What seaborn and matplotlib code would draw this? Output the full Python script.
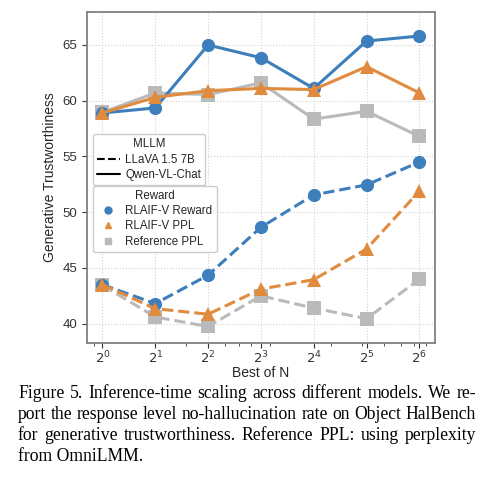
import numpy as np
import pandas as pd
import seaborn as sns
from matplotlib import pyplot as plt
from matplotlib.lines import Line2D
from matplotlib.ticker import NullFormatter

# Best-of-N sample counts (x axis, powers of two)
best_of_n = [1, 2, 4, 8, 16, 32, 64]
exponents = [0, 1, 2, 3, 4, 5, 6]

# Qwen-VL-Chat (solid lines)
qwen_reward = [58.9, 59.35, 65.0, 63.85, 61.1, 65.35, 65.8]
qwen_ppl = [58.9, 60.3, 60.9, 61.1, 61.0, 63.05, 60.7]
qwen_ref = [58.95, 60.7, 60.55, 61.6, 58.35, 59.05, 56.8]

# LLaVA 1.5 7B (dashed lines)
llava_reward = [43.5, 41.8, 44.35, 48.65, 51.55, 52.45, 54.5]
llava_ppl = [43.5, 41.35, 40.85, 43.1, 43.95, 46.7, 51.9]
llava_ref = [43.45, 40.6, 39.75, 42.5, 41.4, 40.45, 44.0]

rewards = ['RLAIF-V Reward', 'RLAIF-V PPL', 'Reference PPL']
mllms = ['LLaVA 1.5 7B', 'Qwen-VL-Chat']
y_ticks = [40, 45, 50, 55, 60, 65]

caption_lines = [
    "Figure 5.  Inference-time scaling across different models.  We re-",
    "port the response level no-hallucination rate on Object HalBench",
    "for generative trustworthiness.  Reference PPL: using perplexity",
    "from OmniLMM.",
]

colors = {'RLAIF-V Reward': '#3d7ebc', 'RLAIF-V PPL': '#e08b3e', 'Reference PPL': '#bababa'}
markers = {'RLAIF-V Reward': 'o', 'RLAIF-V PPL': '^', 'Reference PPL': 's'}
styles = {'LLaVA 1.5 7B': '--', 'Qwen-VL-Chat': '-'}

sns.set_style('whitegrid', {'grid.linestyle': ':', 'grid.color': '0.82',
                            'axes.edgecolor': '0.5', 'xtick.bottom': True,
                            'ytick.left': True})
plt.rcParams['font.family'] = ['Liberation Sans', 'DejaVu Sans']
plt.rcParams['xtick.major.size'] = 3.5
plt.rcParams['ytick.major.size'] = 3.5
plt.rcParams['xtick.minor.size'] = 2
plt.rcParams['xtick.color'] = '0.2'
plt.rcParams['ytick.color'] = '0.2'

fig = plt.figure(figsize=(4.94, 4.78), dpi=100)
ax = fig.add_axes([0.176, 0.282, 0.705, 0.693])

# draw order: reference, reward, ppl (ppl ends up on top)
series = [
    (llava_ref, 'Reference PPL', 'LLaVA 1.5 7B'),
    (llava_reward, 'RLAIF-V Reward', 'LLaVA 1.5 7B'),
    (llava_ppl, 'RLAIF-V PPL', 'LLaVA 1.5 7B'),
    (qwen_ref, 'Reference PPL', 'Qwen-VL-Chat'),
    (qwen_reward, 'RLAIF-V Reward', 'Qwen-VL-Chat'),
    (qwen_ppl, 'RLAIF-V PPL', 'Qwen-VL-Chat'),
]
for vals, reward, mllm in series:
    df = pd.DataFrame({'N': best_of_n, 'Value': vals})
    sns.lineplot(data=df, x='N', y='Value', ax=ax, color=colors[reward],
                 marker=markers[reward], markersize=9.5, markeredgewidth=0,
                 linestyle=styles[mllm], linewidth=2.2)

ax.set_xscale('log')
ax.set_xticks(best_of_n, labels=[f'$2^{{{e}}}$' for e in exponents])
ax.xaxis.set_minor_formatter(NullFormatter())
ax.set_xlim(2 ** -0.294, 2 ** 6.3)
ax.set_yticks(y_ticks)
ax.set_ylim(38.25, 67.96)
ax.tick_params(axis='both', labelsize=9.5)
ax.tick_params(axis='x', pad=1)
for s in ax.spines.values():
    s.set_linewidth(1.3)
ax.set_xlabel('Best of N', fontsize=10, labelpad=0)
ax.set_ylabel('Generative Trustworthiness', fontsize=10)

leg_kw = dict(loc='upper left', borderaxespad=0, fontsize=8.3, title_fontsize=8.3,
              framealpha=1, labelspacing=0.3, borderpad=0.35, handletextpad=0.5)
h1 = [Line2D([], [], color='black', linestyle=styles[m], linewidth=1.5) for m in mllms]
leg1 = ax.legend(h1, mllms, title='MLLM', bbox_to_anchor=(0.016, 0.631), **leg_kw)
ax.add_artist(leg1)
h2 = [Line2D([], [], color=colors[r], marker=markers[r], linestyle='none', markersize=5)
      for r in rewards]
ax.legend(h2, rewards, title='Reward', bbox_to_anchor=(0.016, 0.476), **leg_kw)

# justified caption below the chart
fig.canvas.draw()
renderer = fig.canvas.get_renderer()
x_left, x_right = 18 / 494, 476 / 494
baselines = [398.0, 418.8, 439.5, 460.7]
cap_family = ['Liberation Serif', 'DejaVu Serif']

# size the serif caption so the second line fills the column with normal spacing
probe = fig.text(0, 0, caption_lines[1], family=cap_family, fontsize=10)
natural = probe.get_window_extent(renderer).width
probe.remove()
cap_size = 10 * (x_right - x_left) * fig.bbox.width / natural
cap_font = dict(family=cap_family, fontsize=cap_size, color='black')

for i, line in enumerate(caption_lines):
    y = 1 - baselines[i] / 478
    if i == len(caption_lines) - 1:
        fig.text(x_left, y, line, va='baseline', ha='left', **cap_font)
        continue
    words = line.split()
    texts = [fig.text(0, y, w, va='baseline', ha='left', **cap_font) for w in words]
    widths = [t.get_window_extent(renderer).width / fig.bbox.width for t in texts]
    gap = (x_right - x_left - sum(widths)) / (len(words) - 1)
    x = x_left
    for t, w in zip(texts, widths):
        t.set_x(x)
        x += w + gap

fig.savefig('out.png', dpi=100)
